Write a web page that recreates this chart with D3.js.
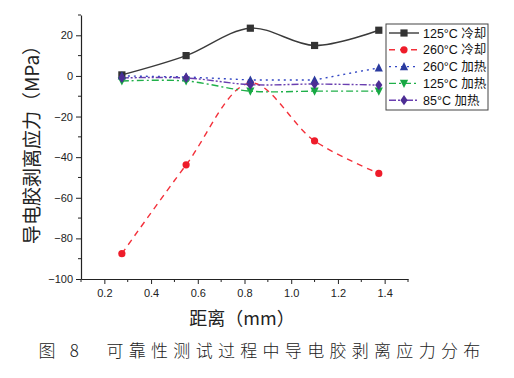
<!DOCTYPE html>
<html><head><meta charset="utf-8">
<script src="https://cdn.jsdelivr.net/npm/d3@7"></script>
<style>body{margin:0;background:#fff}</style>
</head><body>
<svg id="c" width="514" height="378"></svg>
<script>
const xs = [0.275, 0.55, 0.825, 1.1, 1.375];
const cool125 = [0.5, 10, 23.5, 15, 22.5];
const cool260 = [-87.5, -43.8, -3.5, -32, -48];
const heat260 = [0, -0.5, -2, -2, 4];
const heat125 = [-2.5, -2.5, -7.5, -7.5, -7.5];
const heat85 = [-1, -1, -4.3, -4, -4.5];
const xTicks = [0.2, 0.4, 0.6, 0.8, 1.0, 1.2, 1.4];
const yTicks = [20, 0, -20, -40, -60, -80, -100];
const names = ["125°C 冷却", "260°C 冷却", "260°C 加热", "125°C 加热", "85°C 加热"];

const series = [
  {name: names[0], v: cool125, color: "#3a3a3a", mcolor: "#333", dash: null, sym: "square", curve: d3.curveCatmullRom},
  {name: names[1], v: cool260, color: "#f3303a", mcolor: "#ee1c2a", dash: "6,5", sym: "circle", curve: d3.curveCatmullRom},
  {name: names[2], v: heat260, color: "#3347c4", mcolor: "#2a3a9e", dash: "2,4", sym: "triUp", curve: d3.curveLinear},
  {name: names[3], v: heat125, color: "#20b04a", mcolor: "#17a843", dash: "7,3,2,3", sym: "triDown", curve: d3.curveCatmullRom},
  {name: names[4], v: heat85, color: "#6a3fb0", mcolor: "#4d2d94", dash: "7,2,2,2,2,2", sym: "diamond", curve: d3.curveCatmullRom}
];

const svg = d3.select("#c");
const L = 81, R = 408, T = 15, B = 279;
const x = d3.scaleLinear().domain([0.1, 1.5]).range([L, R]);
const y = d3.scaleLinear().domain([-100, 30]).range([B, T]);

const font = "Liberation Sans, Arial, sans-serif";
const xAxis = d3.axisBottom(x).tickValues(xTicks).tickFormat(d3.format(".1f")).tickSize(5).tickSizeOuter(0);
const gx = svg.append("g").attr("transform", `translate(0,${B})`).call(xAxis);
gx.selectAll("text").attr("font-family", font).attr("font-size", 11).attr("fill", "#222").attr("dy", "0.9em");
gx.selectAll(".tick line").attr("stroke", "#222");
gx.select(".domain").attr("stroke", "#222").attr("stroke-width", 1.2);
const xMinor = d3.range(0.1, 1.51, 0.2);
svg.append("g").selectAll("line").data(xMinor).join("line")
  .attr("x1", d => x(d)).attr("x2", d => x(d)).attr("y1", B).attr("y2", B + 3).attr("stroke", "#222");

const yAxis = d3.axisLeft(y).tickValues(yTicks).tickSize(5).tickSizeOuter(0);
const gy = svg.append("g").attr("transform", `translate(${L},0)`).call(yAxis);
gy.selectAll("text").attr("font-family", font).attr("font-size", 11).attr("fill", "#222");
gy.selectAll(".tick line").attr("stroke", "#222");
gy.select(".domain").attr("stroke", "#222").attr("stroke-width", 1.2);
const yMinor = d3.range(-90, 31, 20);
svg.append("g").selectAll("line").data(yMinor).join("line")
  .attr("x1", L).attr("x2", L - 3).attr("y1", d => y(d)).attr("y2", d => y(d)).attr("stroke", "#222");

function sym(g, type, cx, cy, color) {
  const s = 3.6;
  let p;
  if (type === "square") p = `M${cx-s},${cy-s}h${2*s}v${2*s}h${-2*s}Z`;
  else if (type === "triUp") p = `M${cx},${cy-s-1}L${cx+s+0.5},${cy+s}L${cx-s-0.5},${cy+s}Z`;
  else if (type === "triDown") p = `M${cx},${cy+s+1}L${cx+s+0.5},${cy-s}L${cx-s-0.5},${cy-s}Z`;
  else if (type === "diamond") p = `M${cx},${cy-s-1.5}L${cx+s},${cy}L${cx},${cy+s+1.5}L${cx-s},${cy}Z`;
  if (type === "circle") g.append("circle").attr("cx", cx).attr("cy", cy).attr("r", s).attr("fill", color);
  else g.append("path").attr("d", p).attr("fill", color);
}

series.forEach(s => {
  const line = d3.line().x((d, i) => x(xs[i])).y(d => y(d)).curve(s.curve);
  svg.append("path").attr("d", line(s.v)).attr("fill", "none").attr("stroke", s.color)
    .attr("stroke-width", 1.4).attr("stroke-dasharray", s.dash);
});
series.forEach(s => {
  const g = svg.append("g");
  s.v.forEach((v, i) => sym(g, s.sym, x(xs[i]), y(v), s.mcolor));
});

const lg = svg.append("g");
lg.append("rect").attr("x", 386).attr("y", 24).attr("width", 102).attr("height", 86)
  .attr("fill", "#fff").attr("stroke", "#444").attr("stroke-width", 1);
series.forEach((s, i) => {
  const yy = 33 + i * 16.8;
  lg.append("line").attr("x1", 389).attr("x2", 419).attr("y1", yy).attr("y2", yy)
    .attr("stroke", s.color).attr("stroke-width", 1.4).attr("stroke-dasharray", s.dash);
  sym(lg, s.sym, 404, yy, s.mcolor);
  lg.append("text").attr("x", 423).attr("y", yy + 4.5).attr("font-family", "Liberation Sans, Noto Sans CJK SC, sans-serif")
    .attr("font-size", 12.5).attr("fill", "#111").text(s.name);
});

svg.append("text").attr("transform", "translate(39,140) rotate(-90)").attr("text-anchor", "middle")
  .attr("font-family", "Noto Sans CJK SC, sans-serif").attr("font-size", 19).attr("fill", "#222")
  .text("导电胶剥离应力（MPa）");
svg.append("text").attr("x", 242).attr("y", 325).attr("text-anchor", "middle")
  .attr("font-family", "Noto Sans CJK SC, serif").attr("font-size", 18).attr("fill", "#222")
  .text("距离（mm）");
svg.append("text").attr("x", 262).attr("y", 357).attr("text-anchor", "middle")
  .attr("font-family", "Noto Sans CJK SC, serif").attr("font-size", 17).attr("font-weight", 300)
  .attr("letter-spacing", 5.3).attr("fill", "#222")
  .text("图 8　可靠性测试过程中导电胶剥离应力分布");
</script>
</body></html>
